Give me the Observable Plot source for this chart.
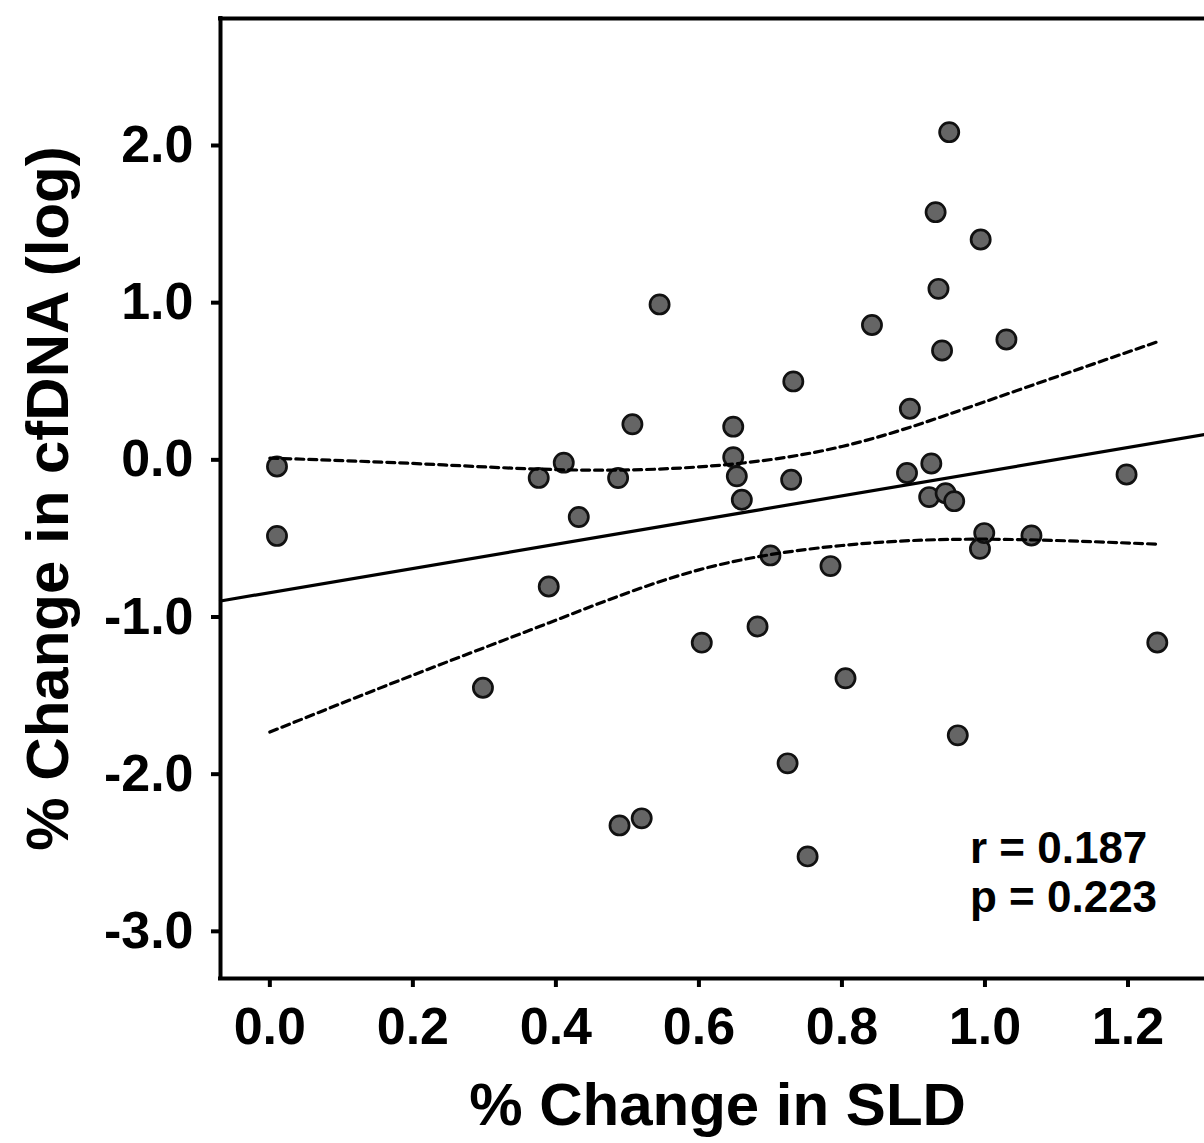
<!DOCTYPE html>
<html>
<head>
<meta charset="utf-8">
<script src="https://cdn.jsdelivr.net/npm/d3@7"></script>
<script src="https://cdn.jsdelivr.net/npm/@observablehq/plot@0.6"></script>
<style>
  html, body { margin: 0; padding: 0; background: #fff; }
  #chart svg { display: block; }
</style>
</head>
<body>
<div id="chart"></div>
<script>
// ---- data ----
const sldChange = [0.010, 0.010, 0.298, 0.376, 0.390, 0.411, 0.432, 0.487, 0.489, 0.507,
  0.520, 0.545, 0.604, 0.648, 0.648, 0.653, 0.660, 0.682, 0.700, 0.724,
  0.729, 0.732, 0.752, 0.784, 0.805, 0.842, 0.891, 0.895, 0.922, 0.925,
  0.931, 0.935, 0.940, 0.945, 0.950, 0.957, 0.962, 0.993, 0.994, 0.999,
  1.030, 1.065, 1.198, 1.241];
const cfdnaChange = [-0.042, -0.484, -1.450, -0.115, -0.806, -0.018, -0.364, -0.116, -2.326, 0.226,
  -2.281, 0.989, -1.163, 0.211, 0.017, -0.105, -0.254, -1.060, -0.608, -1.931,
  -0.127, 0.499, -2.523, -0.676, -1.390, 0.858, -0.084, 0.325, -0.237, -0.023,
  1.576, 1.088, 0.696, -0.212, 2.085, -0.263, -1.753, -0.566, 1.402, -0.466,
  0.766, -0.481, -0.093, -1.162];

// regression line
const fitIntercept = -0.845;
const fitSlope = 0.77;

// 95% confidence band
const bandX     = [0, 0.2, 0.4, 0.6, 0.8, 1.0, 1.245];
const bandUpper = [0.011, -0.023, -0.062, -0.045, 0.085, 0.37, 0.757];
const bandLower = [-1.732, -1.37, -1.02, -0.70, -0.545, -0.505, -0.537];

const xTicks = [0, 0.2, 0.4, 0.6, 0.8, 1.0, 1.2];
const yTicks = [-3, -2, -1, 0, 1, 2];
const xDomain = [-0.069, 1.307];
const yDomain = [-3.30, 2.808];

const xTitle = "% Change in SLD";
const yTitle = "% Change in cfDNA (log)";
const statsText = "r = 0.187\np = 0.223";
const statsAt = {x: 0.979, y: -2.345};

// ---- derived tables ----
const points = sldChange.map((x, i) => ({x, y: cfdnaChange[i]}));
const fitLine = xDomain.map(x => ({x, y: fitIntercept + fitSlope * x}));
const upper = bandX.map((x, i) => ({x, y: bandUpper[i]}));
const lower = bandX.map((x, i) => ({x, y: bandLower[i]}));

const font = "'Liberation Sans', Arial, Helvetica, sans-serif";
const fmt = d => d.toFixed(1);

const chart = Plot.plot({
  width: 1204,
  height: 1143,
  marginLeft: 220,
  marginRight: 0,
  marginTop: 18,
  marginBottom: 165,
  style: {fontFamily: font, fontSize: "52px", fontWeight: "bold", color: "#000", background: "#fff"},
  x: {domain: xDomain},
  y: {domain: yDomain},
  marks: [
    Plot.dot(points, {x: "x", y: "y", r: 9.6, fill: "#656565", stroke: "#111", strokeWidth: 2.7}),
    Plot.line(fitLine, {x: "x", y: "y", stroke: "#000", strokeWidth: 3.2}),
    Plot.line(upper, {x: "x", y: "y", stroke: "#000", strokeWidth: 3.2, strokeDasharray: "8,5", curve: "natural"}),
    Plot.line(lower, {x: "x", y: "y", stroke: "#000", strokeWidth: 3.2, strokeDasharray: "8,5", curve: "natural"}),
    Plot.ruleY([yDomain[1]], {stroke: "#000", strokeWidth: 4, strokeLinecap: "square"}),
    Plot.ruleY([yDomain[0]], {stroke: "#000", strokeWidth: 4, strokeLinecap: "square"}),
    Plot.ruleX([xDomain[0]], {stroke: "#000", strokeWidth: 4, strokeLinecap: "square"}),
    Plot.axisX({ticks: xTicks, tickFormat: fmt, tickSize: 9, tickPadding: 20, strokeWidth: 4,
      fontSize: 52, fontWeight: "bold", fontFamily: font, label: null}),
    Plot.axisY({ticks: yTicks, tickFormat: fmt, tickSize: 9, tickPadding: 18, strokeWidth: 4,
      fontSize: 52, fontWeight: "bold", fontFamily: font, label: null}),
    Plot.text([statsText], {x: () => statsAt.x, y: () => statsAt.y, textAnchor: "start", lineAnchor: "top",
      lineHeight: 1.114, fontSize: 44, fontWeight: "bold", fontFamily: font, fill: "#000"}),
    Plot.text([xTitle], {frameAnchor: "bottom", textAnchor: "middle", lineAnchor: "top", dy: 104, dx: 5,
      fontSize: 60, fontWeight: "bold", fontFamily: font, fill: "#000"}),
    Plot.text([yTitle], {frameAnchor: "left", textAnchor: "middle", rotate: -90, lineAnchor: "top", dx: -195,
      fontSize: 60, fontWeight: "bold", fontFamily: font, fill: "#000"})
  ]
});
document.getElementById("chart").appendChild(chart);
</script>
</body>
</html>
